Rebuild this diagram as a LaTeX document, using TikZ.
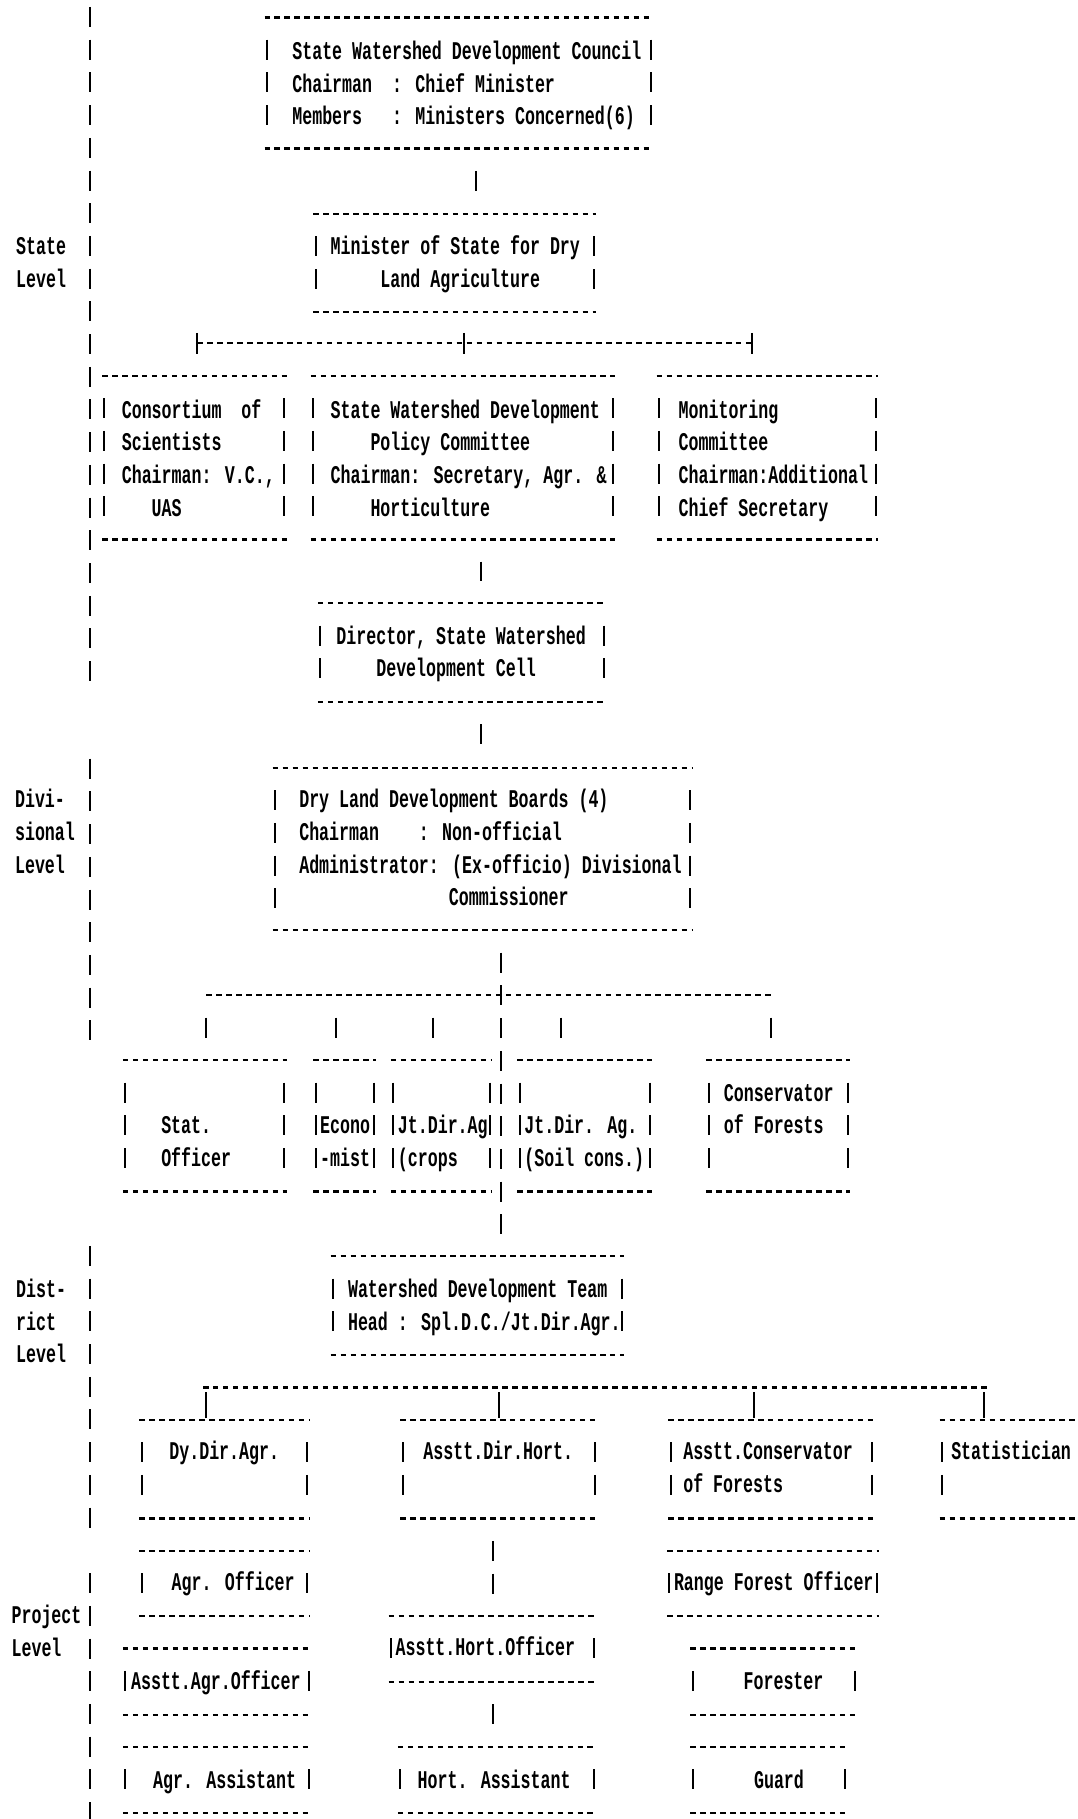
\documentclass[tikz,border=0pt]{standalone}
\usepackage{fontspec}
\newfontfamily\dfont[FakeStretch=0.652]{Liberation Mono}
\usetikzlibrary{calc,fit}
\newlength\cw
\newcommand\ind[1]{\hspace*{#1\cw}}
\newcommand\asciibox[1]{%
  \draw[hd] ($(#1.north west)+(-2,0)$) -- ($(#1.north east)+(2,0)$);
  \draw[hd] ($(#1.south west)+(-2,0)$) -- ($(#1.south east)+(2,0)$);
  \draw[vd] ($(#1.north west)+(0,19.2)$) -- ($(#1.south west)+(0,-19.2)$);
  \draw[vd] ($(#1.north east)+(0,19.2)$) -- ($(#1.south east)+(0,-19.2)$);}
\begin{document}
\settowidth{\cw}{\dfont\bfseries\fontsize{25.5}{32.7}\selectfont 0}
\begin{tikzpicture}[x=1.1604pt,y=-1.1604pt,
  hd/.style={line width=2.2pt, dash pattern=on 5.5pt off 4.48pt},
  vd/.style={line width=2pt, dash pattern=on 20pt off 12.72pt},
  conn/.style={vd, shorten <=22.3pt, shorten >=22.3pt},
  bar/.style={line width=2pt},
  bx/.style={inner sep=0pt, outer sep=0pt, draw=none},
  txt/.style={anchor=north west, inner sep=0pt, outer sep=0pt, align=left, yshift=15.55pt,
    font=\dfont\bfseries\fontsize{25.5}{32.7}\selectfont}]
\useasboundingbox (0,0) rectangle (929,1568);
\fill[white] (0,0) rectangle (929,1568);
\clip (0,0) rectangle (929,1568);

% ---- boxes ----
\node[bx, fit={(230,15)(561,128)}] (council) {};
\node[bx, fit={(272,184.5)(512,269)}] (minister) {};
\node[bx, fit={(90,324)(245,465)}] (cons) {};
\node[bx, fit={(270,324)(528,465)}] (policy) {};
\node[bx, fit={(568,324)(755,465)}] (monit) {};
\node[bx, fit={(276,520)(521,605)}] (director) {};
\node[bx, fit={(237,662)(595,802)}] (boards) {};
\node[bx, fit={(108,914)(245,1027)}] (stat) {};
\node[bx, fit={(272,914)(322,1027)}] (econo) {};
\node[bx, fit={(339,914)(422,1027)}] (crops) {};
\node[bx, fit={(448,914)(560,1027)}] (soil) {};
\node[bx, fit={(611,914)(731,1027)}] (conserv) {};
\node[bx, fit={(287,1083)(536,1168)}] (wdt) {};
\node[bx, fit={(122,1224)(265,1309)}] (dydir) {};
\node[bx, fit={(347,1224)(513,1309)}] (adhort) {};
\node[bx, fit={(578,1224)(752,1309)}] (acons) {};
\node[bx, fit={(812,1224)(960,1309)}] (statn) {};
\node[bx, fit={(122,1337)(265,1393)}] (agroff) {};
\node[bx, fit={(577,1337)(756,1393)}] (range) {};
\node[bx, fit={(108,1421)(266,1478)}] (aagroff) {};
\node[bx, fit={(337,1393)(512,1450)}] (ahortoff) {};
\node[bx, fit={(597,1421)(737,1478)}] (forester) {};
\node[bx, fit={(108,1506)(266,1563)}] (agrasst) {};
\node[bx, fit={(345,1506)(512,1563)}] (hortasst) {};
\node[bx, fit={(597,1506)(728,1563)}] (guard) {};

\foreach \b in {council,minister,cons,policy,monit,director,boards,stat,econo,crops,soil,conserv,wdt,dydir,adhort,acons,statn,agroff,range,aagroff,ahortoff,forester,agrasst,hortasst,guard}{\asciibox{\b}}

% ---- texts ----
\node[txt] (councilT) at (252,45) {\strut State Watershed Development Council\\Chairman\ind{2}: Chief Minister\\Members\ind{3}: Ministers Concerned(6)};
\node[txt] (ministerT) at (285,213) {\strut Minister of State for Dry\\\ind{5}Land Agriculture};
\node[txt] (consT) at (105,354) {\strut Consortium\ind{2}of\\Scientists\\Chairman: V.C.,\\\ind{3}UAS};
\node[txt] (policyT) at (285,354) {\strut State Watershed Development\\\ind{4}Policy Committee\\Chairman: Secretary, Agr. \&\\\ind{4}Horticulture};
\node[txt] (monitT) at (585,354) {\strut Monitoring\\Committee\\Chairman:Additional\\Chief Secretary};
\node[txt] (directorT) at (290,549) {\strut Director, State Watershed\\\ind{4}Development Cell};
\node[txt] (boardsT) at (258,690) {\strut Dry Land Development Boards (4)\\Chairman\ind{4}: Non-official\\Administrator: (Ex-officio) Divisional\\\ind{15}Commissioner};
\node[txt] (statT) at (139,971) {\strut Stat.\\Officer};
\node[txt] (econoT) at (276,971) {\strut Econo\\-mist};
\node[txt] (cropsT) at (343,971) {\strut Jt.Dir.Ag\\(crops};
\node[txt] (soilT) at (452,971) {\strut Jt.Dir. Ag.\\(Soil cons.)};
\node[txt] (conservT) at (624,943) {\strut Conservator\\of Forests};
\node[txt] (wdtT) at (300,1112) {\strut Watershed Development Team\\Head : Spl.D.C./Jt.Dir.Agr.};
\node[txt] (dydirT) at (146,1252) {\strut Dy.Dir.Agr.};
\node[txt] (adhortT) at (365,1252) {\strut Asstt.Dir.Hort.};
\node[txt] (aconsT) at (589,1252) {\strut Asstt.Conservator\\of Forests};
\node[txt] (statnT) at (820,1252) {\strut Statistician};
\node[txt] (agroffT) at (148,1365) {\strut Agr. Officer};
\node[txt] (rangeT) at (581,1365) {\strut Range Forest Officer};
\node[txt] (aagroffT) at (113,1450) {\strut Asstt.Agr.Officer};
\node[txt] (ahortoffT) at (341,1421) {\strut Asstt.Hort.Officer};
\node[txt] (foresterT) at (641,1450) {\strut Forester};
\node[txt] (agrasstT) at (132,1535) {\strut Agr. Assistant};
\node[txt] (hortasstT) at (360,1535) {\strut Hort. Assistant};
\node[txt] (guardT) at (650,1535) {\strut Guard};

% ---- level labels ----
\node[txt] (stateL) at (14,213) {\strut State\\Level};
\node[txt] (divL) at (13,690) {\strut Divi-\\sional\\Level};
\node[txt] (distL) at (14,1112) {\strut Dist-\\rict\\Level};
\node[txt] (projL) at (10,1393) {\strut Project\\Level};

% ---- left axis ----
\draw[vd] (78,6) -- (78,590);
\draw[vd] (78,654) -- (78,898);
\draw[vd] (78,1074) -- (78,1318);
\draw[vd] (78,1356) -- (78,1580);

% ---- column coordinates ----
\coordinate (c1) at (410,0);
\coordinate (c2) at (415,0);
\coordinate (c3) at (432,0);
\coordinate (c4) at (425,0);

% ---- connectors ----
\draw[conn] (council.south -| c1) -- (minister.north -| c1);
\draw[conn] (policy.south -| c2) -- (director.north -| c2);
\draw[conn] (director.south -| c2) -- (boards.north -| c2);
\draw[conn] (boards.south -| c3) -- (wdt.north -| c3);
\draw[conn] (adhort.south -| c4) -- (ahortoff.north -| c4);
\draw[conn] (ahortoff.south -| c4) -- (hortasst.north -| c4);

% ---- distribution line 1 ----
\coordinate (l1a) at (170,296);
\coordinate (l1b) at (400,296);
\coordinate (l1c) at (648,296);
\draw[hd] (l1a) -- (l1c);
\foreach \p in {l1a,l1b,l1c}{\draw[bar] ($(\p)+(0,-9)$) -- ($(\p)+(0,9)$);}

% ---- distribution line 2 ----
\coordinate (l2a) at (178,858);
\coordinate (l2b) at (290,858);
\coordinate (l2c) at (373,858);
\coordinate (l2d) at (484,858);
\coordinate (l2e) at (665,858);
\draw[hd] (l2a) -- ($(l2e)+(2,0)$);
\draw[conn] (l2a) -- (l2a |- stat.north);
\draw[conn] (l2b) -- (l2b |- econo.north);
\draw[conn] (l2c) -- (l2c |- crops.north);
\draw[conn] (l2d) -- (l2d |- soil.north);
\draw[conn] (l2e) -- (l2e |- conserv.north);

% ---- distribution line 3 ----
\coordinate (l3a) at (178,1196);
\coordinate (l3b) at (430,1196);
\coordinate (l3c) at (650,1196);
\coordinate (l3d) at (848,1196);
\draw[hd] ($(l3a)+(-3,0)$) -- ($(l3d)+(5,0)$);
\draw[bar, shorten <=5pt, shorten >=2pt] (l3a) -- (l3a |- dydir.north);
\draw[bar, shorten <=5pt, shorten >=2pt] (l3b) -- (l3b |- adhort.north);
\draw[bar, shorten <=5pt, shorten >=2pt] (l3c) -- (l3c |- acons.north);
\draw[bar, shorten <=5pt, shorten >=2pt] (l3d) -- (l3d |- statn.north);
\end{tikzpicture}
\end{document}
